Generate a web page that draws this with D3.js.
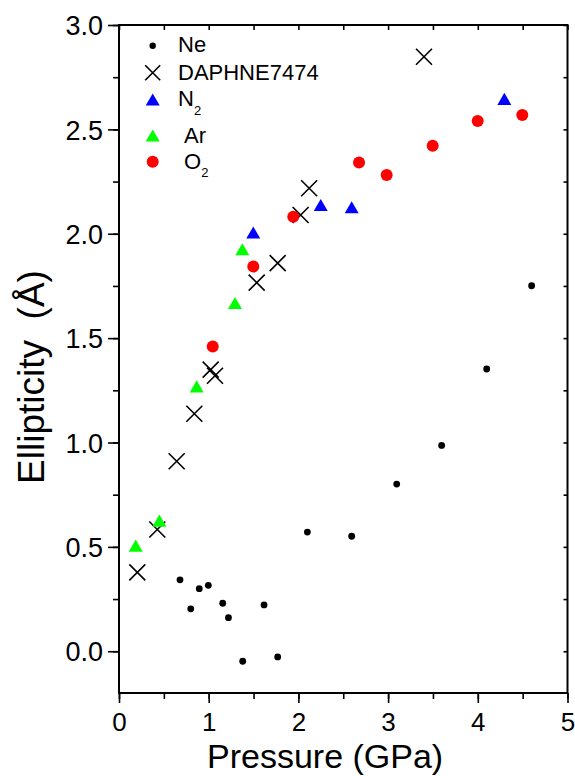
<!DOCTYPE html>
<html>
<head>
<meta charset="utf-8">
<script src="https://cdn.jsdelivr.net/npm/d3@7"></script>
<style>
  body { margin: 0; background: #fff; }
  svg { display: block; font-family: "Liberation Sans", Arial, sans-serif; }
</style>
</head>
<body>
<svg id="chart" width="575" height="776"></svg>
<script>
// pressure (GPa), ellipticity (Å)
const nePressure = [0.68, 0.80, 0.895, 0.996, 1.156, 1.22, 1.379, 1.617, 1.769, 2.10, 2.594, 3.096, 3.597, 4.099, 4.60];
const neEllip = [0.342, 0.203, 0.30, 0.316, 0.23, 0.161, -0.048, 0.222, -0.027, 0.571, 0.551, 0.801, 0.986, 1.352, 1.751];

const daphnePressure = [0.204, 0.427, 0.643, 0.84, 1.022, 1.07, 1.535, 1.769, 2.025, 2.12, 3.40];
const daphneEllip = [0.378, 0.583, 0.91, 1.138, 1.349, 1.32, 1.766, 1.859, 2.09, 2.218, 2.848];

const n2Pressure = [1.497, 2.249, 2.594, 4.296];
const n2Ellip = [2.006, 2.138, 2.127, 2.646];

const arPressure = [0.186, 0.45, 0.866, 1.293, 1.375];
const arEllip = [0.506, 0.626, 1.269, 1.668, 1.926];

const o2Pressure = [1.045, 1.497, 1.943, 2.676, 2.984, 3.497, 3.999, 4.496];
const o2Ellip = [1.46, 1.843, 2.082, 2.341, 2.282, 2.421, 2.54, 2.569];

const xTicks = [0, 1, 2, 3, 4, 5];
const yTicks = [0.0, 0.5, 1.0, 1.5, 2.0, 2.5, 3.0];

const svg = d3.select('#chart');
const plotLeft = 119, plotRight = 567.5, plotTop = 25, plotBottom = 693;

const x = d3.scaleLinear().domain([0, 5]).range([plotLeft, plotRight]);
const y = d3.scaleLinear().domain([-0.2, 3.0]).range([plotBottom, plotTop]);

const xMinor = d3.range(0, 5.01, 0.5);
const yMinor = d3.range(-0.0, 3.01, 0.25);

// outward major/minor ticks on bottom and left
function styleAxis(g) {
  g.select('.domain').remove();
  g.selectAll('line').attr('stroke', '#000').attr('stroke-width', 1.6);
}

svg.append('g')
  .attr('transform', `translate(0,${plotBottom})`)
  .call(d3.axisBottom(x).tickValues(xMinor).tickSize(6).tickFormat(''))
  .call(styleAxis);
svg.append('g')
  .attr('transform', `translate(0,${plotBottom})`)
  .call(d3.axisBottom(x).tickValues(xTicks).tickSize(10).tickPadding(8).tickFormat(d3.format('d')))
  .call(styleAxis)
  .selectAll('text')
  .attr('font-size', 26).attr('fill', '#000').attr('dy', '0.75em');

svg.append('g')
  .attr('transform', `translate(${plotLeft},0)`)
  .call(d3.axisLeft(y).tickValues(yMinor).tickSize(6).tickFormat(''))
  .call(styleAxis);
svg.append('g')
  .attr('transform', `translate(${plotLeft},0)`)
  .call(d3.axisLeft(y).tickValues(yTicks).tickSize(11).tickPadding(5).tickFormat(d3.format('.1f')))
  .call(styleAxis)
  .selectAll('text')
  .attr('font-size', 27).attr('fill', '#000').attr('dy', '0.36em');

// inward mirror ticks on top and right
svg.append('g')
  .attr('transform', `translate(0,${plotTop})`)
  .call(d3.axisBottom(x).tickValues(xMinor).tickSize(5).tickFormat(''))
  .call(styleAxis);
svg.append('g')
  .attr('transform', `translate(${plotRight},0)`)
  .call(d3.axisLeft(y).tickValues(yMinor).tickSize(4).tickFormat(''))
  .call(styleAxis);

svg.append('rect')
  .attr('x', plotLeft).attr('y', plotTop)
  .attr('width', plotRight - plotLeft).attr('height', plotBottom - plotTop)
  .attr('fill', 'none').attr('stroke', '#000').attr('stroke-width', 2);

// marker shapes
const crossPath = (a) => `M${-a},${-a}L${a},${a}M${-a},${a}L${a},${-a}`;
const triPath = (w) => {
  const h = w * 0.866;
  return `M0,${-h / 2}L${-w / 2},${h / 2}L${w / 2},${h / 2}Z`;
};

function zipPts(px, py) { return px.map((p, i) => [p, py[i]]); }

const plot = svg.append('g');

plot.selectAll('circle.ne')
  .data(zipPts(nePressure, neEllip))
  .join('circle')
  .attr('class', 'ne')
  .attr('cx', (d) => x(d[0])).attr('cy', (d) => y(d[1]))
  .attr('r', 3.4).attr('fill', '#000');

plot.selectAll('path.daphne')
  .data(zipPts(daphnePressure, daphneEllip))
  .join('path')
  .attr('class', 'daphne')
  .attr('transform', (d) => `translate(${x(d[0])},${y(d[1])})`)
  .attr('d', crossPath(8))
  .attr('stroke', '#000').attr('stroke-width', 1.6).attr('fill', 'none');

plot.selectAll('path.n2')
  .data(zipPts(n2Pressure, n2Ellip))
  .join('path')
  .attr('class', 'n2')
  .attr('transform', (d) => `translate(${x(d[0])},${y(d[1])})`)
  .attr('d', triPath(14))
  .attr('fill', '#0000ff');

plot.selectAll('path.ar')
  .data(zipPts(arPressure, arEllip))
  .join('path')
  .attr('class', 'ar')
  .attr('transform', (d) => `translate(${x(d[0])},${y(d[1])})`)
  .attr('d', triPath(14))
  .attr('fill', '#00ff00');

plot.selectAll('circle.o2')
  .data(zipPts(o2Pressure, o2Ellip))
  .join('circle')
  .attr('class', 'o2')
  .attr('cx', (d) => x(d[0])).attr('cy', (d) => y(d[1]))
  .attr('r', 6).attr('fill', '#ff0000');

// legend
const legend = svg.append('g').attr('font-size', 22).attr('fill', '#000');
const mx = 152.7;
legend.append('circle').attr('cx', mx).attr('cy', 45.7).attr('r', 3.2).attr('fill', '#000');
legend.append('text').attr('x', 178).attr('y', 52).text('Ne');

legend.append('path').attr('transform', `translate(${mx},72.7)`).attr('d', crossPath(7.5))
  .attr('stroke', '#000').attr('stroke-width', 1.6).attr('fill', 'none');
legend.append('text').attr('x', 178).attr('y', 80).text('DAPHNE7474');

legend.append('path').attr('transform', `translate(${mx},99.5)`).attr('d', triPath(14)).attr('fill', '#0000ff');
const n2Text = legend.append('text').attr('x', 178).attr('y', 106);
n2Text.append('tspan').text('N');
n2Text.append('tspan').attr('font-size', 13).attr('dy', 9).text('2');

legend.append('path').attr('transform', `translate(${mx},135.5)`).attr('d', triPath(14)).attr('fill', '#00ff00');
legend.append('text').attr('x', 184).attr('y', 143).text('Ar');

legend.append('circle').attr('cx', mx).attr('cy', 161.7).attr('r', 6).attr('fill', '#ff0000');
const o2Text = legend.append('text').attr('x', 184).attr('y', 168.5);
o2Text.append('tspan').text('O');
o2Text.append('tspan').attr('font-size', 13).attr('dy', 8).text('2');

// axis titles
svg.append('text')
  .attr('x', 207).attr('y', 768)
  .attr('font-size', 34).attr('fill', '#000')
  .text('Pressure (GPa)');

svg.append('text')
  .attr('transform', 'translate(44,377) rotate(-90)')
  .attr('text-anchor', 'middle')
  .attr('font-size', 37).attr('fill', '#000')
  .attr('xml:space', 'preserve')
  .style('white-space', 'pre')
  .text('Ellipticity  (Å)');
</script>
</body>
</html>
